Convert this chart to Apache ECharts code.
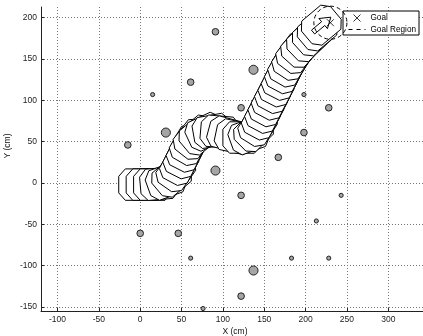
<!DOCTYPE html>
<html>
<head>
<meta charset="utf-8">
<script src="https://cdn.jsdelivr.net/npm/echarts@6/dist/echarts.min.js"></script>
<style>
html, body { margin: 0; padding: 0; background: #fff; }
#chart { width: 423px; height: 336px; }
</style>
</head>
<body>
<div id="chart"></div>
<script>
const xTicks = [-100, -50, 0, 50, 100, 150, 200, 250, 300];
const yTicks = [-150, -100, -50, 0, 50, 100, 150, 200];

// obstacles, cm
const obstacleX = [-15, 31, 15, 61, 91, 137, 198, 122, 228, 198, 167, 91, 122, 243, 213, 183, 228, 137, 122, 0, 46, 61, 76];
const obstacleY = [46, 61, 107, 122, 183, 137, 107, 91, 91, 61, 31, 15, -15, -15, -46, -91, -91, -106, -137, -61, -61, -91, -152];
const obstacleR = [4, 5.5, 2.5, 4, 4, 5.5, 2.5, 4, 4, 4, 4, 5.5, 4, 2.5, 2.5, 2.5, 2.5, 5.5, 4, 4, 4, 2.5, 2.5];

// robot poses along the path: x, y (cm), heading (deg)
const pathX = [-3, 6, 15, 23, 31, 38, 43, 47, 51, 55, 59, 64, 71, 79, 87, 96, 105, 114, 123, 131, 137, 142, 146, 150, 154, 158, 162, 166, 170, 174, 178, 183, 188, 194, 201, 208, 214, 219];
const pathY = [-2, -2, -2, -1, 2, 7, 14, 22, 30, 38, 46, 53, 58, 62, 63, 62, 59, 56, 55, 57, 62, 69, 77, 85, 93, 101, 109, 117, 125, 133, 141, 149, 157, 164, 171, 178, 184, 191];
const pathHeading = [0, 0, 0, 5, 20, 40, 55, 62, 63, 63, 60, 52, 40, 25, 10, -5, -15, -12, 0, 20, 45, 58, 62, 62, 62, 62, 62, 63, 63, 62, 60, 57, 53, 48, 44, 42, 40, 40];

const goalX = [230];
const goalY = [194];
const goalRadius = [20];

// robot footprint and heading arrow in the robot frame (cm)
const robotShape = [[23, 10], [15, 19], [-15, 19], [-23, 10], [-23, -10], [-15, -19], [15, -19], [23, -10]];
const arrowShape = [[15, 0], [3, 8], [3, 3], [-13, 3], [-13, -3], [3, -3], [3, -8]];

const chart = echarts.init(document.getElementById('chart'), null, { renderer: 'canvas' });

const font = 'Liberation Sans, Arial, Helvetica, sans-serif';
const gridLine = { show: true, lineStyle: { color: '#777', type: [1, 2], width: 1 } };

const option = {
    animation: false,
    backgroundColor: '#fff',
    grid: { left: 41, right: 0, top: 7, bottom: 25, containLabel: false, outerBoundsMode: 'none' },
    xAxis: {
        type: 'value', min: -120, max: 342,
        name: 'X (cm)', nameLocation: 'middle', nameGap: 16, nameMoveOverlap: false,
        nameTextStyle: { fontSize: 8.5, color: '#111', fontFamily: font, padding: [0, 0, 0, 6] },
        axisLine: { show: true, onZero: false, lineStyle: { color: '#222', width: 1 } },
        axisTick: { show: true, inside: true, length: 3, customValues: xTicks, lineStyle: { color: '#222' } },
        axisLabel: { customValues: xTicks, fontSize: 8.5, color: '#222', fontFamily: font, margin: 4 },
        splitLine: gridLine
    },
    yAxis: {
        type: 'value', min: -155, max: 213,
        name: 'Y (cm)', nameLocation: 'middle', nameGap: 29, nameMoveOverlap: false,
        nameTextStyle: { fontSize: 8.5, color: '#111', fontFamily: font, padding: [0, 0, 0, 26] },
        axisLine: { show: true, onZero: false, lineStyle: { color: '#222', width: 1 } },
        axisTick: { show: true, inside: true, length: 3, customValues: yTicks, lineStyle: { color: '#222' } },
        axisLabel: { customValues: yTicks, fontSize: 8.5, color: '#222', fontFamily: font, margin: 4 },
        splitLine: gridLine
    },
    legend: {
        data: [
            { name: 'Goal', itemStyle: { borderWidth: 1, borderColor: '#000', color: 'none' } },
            { name: 'Goal Region', itemStyle: { opacity: 0, borderWidth: 0 },
              lineStyle: { width: 1, color: '#000', type: [4, 4] } }
        ],
        orient: 'vertical', left: 343, top: 11,
        backgroundColor: '#fff', borderColor: '#000', borderWidth: 1, borderRadius: 0,
        padding: [1, 3, 1, 5], itemWidth: 17, itemHeight: 7, itemGap: 1,
        selectedMode: false,
        textStyle: { fontSize: 8.2, lineHeight: 9, color: '#000', fontFamily: font }
    },
    series: [
        {
            name: 'Obstacles', type: 'custom', z: 2,
            data: obstacleX.map((x, i) => [x, obstacleY[i], obstacleR[i]]),
            renderItem: function (params, api) {
                const c = api.coord([api.value(0), api.value(1)]);
                const r = api.size([api.value(2), api.value(2)])[0];
                return { type: 'circle', shape: { cx: c[0], cy: c[1], r: r },
                    style: { fill: '#a5a5a5', stroke: '#222', lineWidth: 1 } };
            }
        },
        {
            name: 'Path', type: 'custom', z: 3,
            data: pathX.map((x, i) => [x, pathY[i], pathHeading[i]]),
            renderItem: function (params, api) {
                const c = api.coord([api.value(0), api.value(1)]);
                const k = api.size([1, 1])[0];
                const a = api.value(2) * Math.PI / 180;
                const tf = p => [c[0] + k * (p[0] * Math.cos(a) - p[1] * Math.sin(a)),
                                 c[1] - k * (p[0] * Math.sin(a) + p[1] * Math.cos(a))];
                const children = [{ type: 'polygon', shape: { points: robotShape.map(tf) },
                    style: { fill: '#fff', stroke: '#000', lineWidth: 1 } }];
                if (params.dataIndex === pathX.length - 1) {
                    children.push({ type: 'polygon', shape: { points: arrowShape.map(tf) },
                        style: { fill: 'none', stroke: '#000', lineWidth: 1 } });
                }
                return { type: 'group', children: children };
            }
        },
        {
            name: 'Goal', type: 'scatter', z: 5,
            symbol: 'path://M0,0L10,10M10,0L0,10', symbolSize: 7,
            itemStyle: { color: 'none', borderColor: '#000', borderWidth: 1 },
            data: goalX.map((x, i) => [x, goalY[i]])
        },
        {
            name: 'Goal Region', type: 'line', symbol: 'none', data: [],
            lineStyle: { color: '#000', width: 1, type: [4, 4] }
        },
        {
            name: 'Goal Region Circle', type: 'custom', z: 4,
            data: goalX.map((x, i) => [x, goalY[i], goalRadius[i]]),
            renderItem: function (params, api) {
                const c = api.coord([api.value(0), api.value(1)]);
                const r = api.size([api.value(2), api.value(2)])[0];
                return { type: 'circle', shape: { cx: c[0], cy: c[1], r: r },
                    style: { fill: 'none', stroke: '#000', lineWidth: 1, lineDash: [4, 3] } };
            }
        }
    ]
};

option && chart.setOption(option);

window.addEventListener('resize', function () {
    chart.resize();
});
</script>
</body>
</html>
